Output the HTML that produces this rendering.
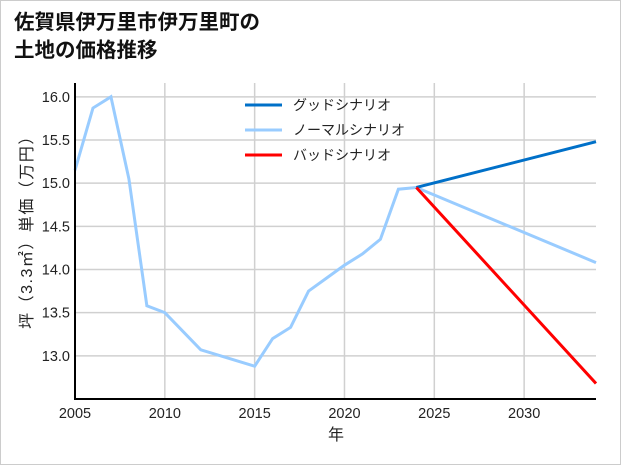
<!DOCTYPE html>
<html><head><meta charset="utf-8"><style>
body{margin:0;background:#fff;}
#wrap{position:relative;width:619px;height:463px;border:1px solid #ccc;background:#fff;overflow:hidden;font-family:"Liberation Sans","Noto Sans CJK JP",sans-serif;}
h1{position:absolute;left:13px;top:8px;margin:0;font-size:20.5px;line-height:28px;font-weight:bold;color:#111;font-family:"Liberation Sans","Noto Sans CJK JP",sans-serif;}
svg text{font-family:"Liberation Sans","Noto Sans CJK JP",sans-serif;}
</style></head><body>
<div id="wrap">
<h1>佐賀県伊万里市伊万里町の<br>土地の価格推移</h1>
<svg id="chart" width="621" height="465" style="position:absolute;left:-1px;top:-1px"></svg>
</div>
<script>
const normalYears=[2005,2006,2007,2008,2009,2010,2012,2015,2016,2017,2018,2019,2020,2021,2022,2023,2024,2034];
const normalValues=[15.15,15.87,16.0,15.05,13.58,13.5,13.07,12.88,13.2,13.33,13.75,13.9,14.05,14.18,14.35,14.93,14.95,14.08];
const goodYears=[2024,2034];
const goodValues=[14.95,15.48];
const badYears=[2024,2034];
const badValues=[14.95,12.68];
const xTicks=[2005,2010,2015,2020,2025,2030];
const yTicks=[13.0,13.5,14.0,14.5,15.0,15.5,16.0];
const legendLabels=["グッドシナリオ","ノーマルシナリオ","バッドシナリオ"];

const L=75,R=596,T=83,B=399,xmin=2005,xmax=2034,ymin=12.5,ymax=16.16;
const sx=v=>L+(v-xmin)/(xmax-xmin)*(R-L);
const sy=v=>B-(v-ymin)/(ymax-ymin)*(B-T);
const svg=document.getElementById('chart');
const NS='http://www.w3.org/2000/svg';
function mk(t,a){const e=document.createElementNS(NS,t);for(const k in a)e.setAttribute(k,a[k]);svg.appendChild(e);return e;}
xTicks.forEach(v=>{
 const g=mk('line',{x1:sx(v),x2:sx(v),y1:T,y2:B,stroke:'#d0d0d0','stroke-width':1.5});
 
 
 const t=mk('text',{x:sx(v),y:418,'text-anchor':'middle','font-size':14.5,fill:'#222'});t.textContent=v;
 
 
});
yTicks.forEach(v=>{
 const g=mk('line',{x1:L,x2:R,y1:sy(v),y2:sy(v),stroke:'#d0d0d0','stroke-width':1.5});
 
 
 const t=mk('text',{x:70,y:sy(v)+5,'text-anchor':'end','font-size':14.5,fill:'#222'});t.textContent=v.toFixed(1);
 
 
});
function line(xs,ys,c,name){
 const p=mk('polyline',{points:xs.map((x,i)=>sx(x)+','+sy(ys[i])).join(' '),fill:'none',stroke:c,'stroke-width':3});
 
 
}
line(normalYears,normalValues,'#99ccff','normal-scenario-line');
line(goodYears,goodValues,'#0070c8','good-scenario-line');
line(badYears,badValues,'#ff0000','bad-scenario-line');
const ax=mk('line',{x1:L,x2:L,y1:T,y2:B,stroke:'#000','stroke-width':2});


const bx=mk('line',{x1:L-1,x2:R,y1:B,y2:B,stroke:'#000','stroke-width':2});


const xt=mk('text',{x:336,y:440,'text-anchor':'middle','font-size':16,fill:'#222'});xt.textContent='年';


const yt=mk('text',{x:0,y:0,'text-anchor':'middle','font-size':16,'letter-spacing':'1.5',fill:'#222',transform:'translate(32,228) rotate(-90)'});yt.textContent='坪（3.3㎡）単価（万円）';


const cols=['#0070c8','#99ccff','#ff0000'];
legendLabels.forEach((s,i)=>{
 const y=105+i*25;
 const l=mk('line',{x1:245,x2:282,y1:y,y2:y,stroke:cols[i],'stroke-width':3});
 
 
 const t=mk('text',{x:293,y:y+5,'font-size':14,fill:'#222'});t.textContent=s;
 
 
});
</script>
</body></html>
